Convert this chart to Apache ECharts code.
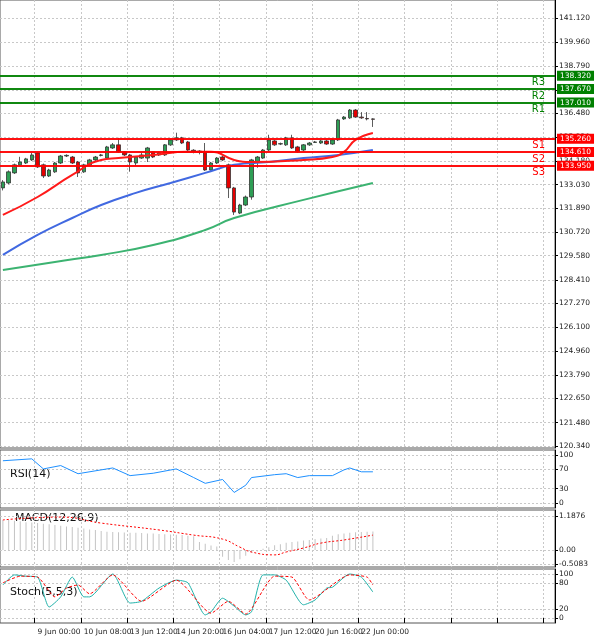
<!DOCTYPE html>
<html><head><meta charset="utf-8">
<script src="https://cdn.jsdelivr.net/npm/echarts@6/dist/echarts.min.js"></script>
<style>html,body{margin:0;padding:0;background:#fff}#c{width:600px;height:638px}</style>
</head><body><div id="c"></div>
<script>
// candles [open, close, low, high]
var candles = [
  [132.87,133.16,132.75,133.25],[133.11,133.65,133.05,133.72],[133.60,133.99,133.55,134.05],[133.99,134.13,133.95,134.38],
  [134.08,134.28,134.03,134.33],[134.23,134.47,134.18,134.57],[134.57,133.89,133.84,134.62],[133.99,133.45,133.35,134.05],
  [133.45,133.74,133.40,133.80],[133.65,134.08,133.60,134.13],[134.08,134.42,134.03,134.47],[134.42,134.45,134.37,134.50],
  [134.37,134.08,134.03,134.42],[134.13,133.60,133.40,134.18],[133.65,133.99,133.60,134.04],[133.99,134.23,133.95,134.28],
  [134.23,134.37,134.18,134.42],[134.45,134.47,134.40,134.52],[134.32,134.86,134.28,134.91],[134.81,134.96,134.76,135.05],
  [134.96,134.62,134.57,135.30],[134.62,134.47,134.42,134.66],[134.47,134.13,133.66,134.52],[134.08,134.37,133.95,134.42],
  [134.32,134.47,134.28,134.57],[134.32,134.81,134.13,134.86],[134.62,134.37,134.32,134.66],[134.47,134.57,134.42,134.62],
  [134.47,134.96,134.42,135.00],[134.96,135.20,134.91,135.25],[135.20,135.30,135.15,135.55],[135.30,135.05,135.00,135.35],
  [135.10,134.71,134.66,135.15],[134.70,134.66,134.55,134.75],[134.66,134.60,134.50,134.70],[134.62,133.74,133.70,135.05],
  [133.74,134.08,133.70,134.13],[134.08,134.32,134.03,134.37],[134.37,134.23,134.18,134.42],[133.99,132.87,132.38,134.05],
  [132.87,131.70,131.56,132.92],[131.65,132.04,131.60,132.10],[132.04,132.43,131.99,132.50],[132.43,134.23,132.30,134.28],
  [134.13,134.37,133.85,134.42],[134.32,134.71,134.28,134.76],[134.71,135.20,134.66,135.45],[135.15,134.96,134.91,135.20],
  [135.00,135.02,134.95,135.07],[134.96,135.30,134.91,135.35],[135.30,134.81,134.76,135.45],[134.86,134.62,134.57,134.91],
  [134.71,134.96,134.66,135.00],[134.96,135.05,134.91,135.10],[135.08,135.10,135.05,135.15],[135.05,135.15,135.00,135.20],
  [135.15,135.00,134.96,135.20],[135.00,135.20,134.96,135.25],[135.20,136.17,135.15,136.22],[136.22,136.31,136.17,136.36],
  [136.27,136.65,136.22,136.70],[136.65,136.31,136.27,136.70],[136.31,136.27,136.22,136.55],[136.24,136.22,136.15,136.55],
  [136.22,136.20,135.83,136.25]
];
var slotCount = 96;
var timeLabels = {6:'9 Jun 00:00',14:'10 Jun 08:00',22:'13 Jun 12:00',30:'14 Jun 20:00',38:'16 Jun 04:00',46:'17 Jun 12:00',54:'20 Jun 16:00',62:'22 Jun 00:00'};
var maRed = [[0,131.56],[6,132.43],[12,133.50],[17,134.23],[20,134.32],[26,134.47],[32,134.62],[36,134.62],[40,134.23],[43,134.13],[52,134.23],[57,134.37],[59,134.62],[61,135.20],[64,135.54]];
var maBlue = [[0,129.62],[6,130.59],[12,131.41],[17,132.04],[23,132.63],[29,133.11],[35,133.60],[40,133.99],[46,134.13],[52,134.32],[58,134.47],[64,134.71]];
var maGreen = [[0,128.89],[9,129.28],[17,129.62],[26,130.10],[35,130.83],[40,131.41],[52,132.29],[64,133.11]];
var resist = [['R3',138.32],['R2',137.67],['R1',137.01]];
var support = [['S1',135.26],['S2',134.61],['S3',133.95]];
var lastPrice = 136.199;
var priceTicks = [141.12,139.96,138.79,137.63,136.48,135.32,134.18,133.03,131.89,130.72,129.58,128.41,127.27,126.10,124.96,123.79,122.65,121.48,120.34];
var rsi = [[0,88],[5,92],[7,71],[10,78],[13,61],[19,73],[22,57],[26,62],[30,71],[33,53],[35,41],[38,49],[40,22],[42,37],[43,53],[47,59],[49,61],[51,53],[53,57],[57,57],[59,69],[60,73],[62,65],[64,65]];
var macdHist = [1.05,1.05,1.02,1.0,0.97,0.96,0.94,0.92,0.9,0.87,0.85,0.82,0.8,0.78,0.75,0.72,0.7,0.66,0.64,0.63,0.62,0.61,0.6,0.6,0.59,0.58,0.58,0.56,0.55,0.54,0.53,0.52,0.5,0.48,0.28,0.22,0.16,0.12,-0.24,-0.35,-0.42,-0.32,-0.2,-0.1,-0.05,0.04,0.1,0.17,0.2,0.25,0.28,0.3,0.33,0.35,0.38,0.4,0.42,0.5,0.55,0.58,0.6,0.62,0.63,0.64,0.65];
var macdSignal = [[0,1.05],[10,1.15],[17,0.94],[27,0.7],[33,0.52],[38,0.38],[41,0.1],[43,-0.07],[47,-0.17],[49,-0.07],[52,0.07],[55,0.24],[59,0.35],[64,0.52]];
var stochMain = [[0,75],[2,98],[4,95],[6,93],[8,25],[10,48],[12,93],[14,48],[15,48],[19,100],[22,34],[24,38],[27,68],[30,86],[32,80],[35,7],[36,14],[38,45],[40,27],[42,7],[43,14],[45,98],[47,98],[49,86],[52,30],[54,41],[56,68],[57,70],[60,100],[62,93],[64,59]];
var stochSignal = [[0,80],[3,95],[6,93],[9,48],[11,68],[13,75],[15,55],[19,98],[24,38],[30,86],[36,11],[39,38],[42,9],[47,95],[50,93],[53,41],[60,98],[63,93],[64,75]];

var cats = [];
for (var i = 0; i < slotCount; i++) cats.push(timeLabels[i] || '');
var onGrid = function (i) { return i >= 6 && (i - 6) % 8 === 0; };
var font = 'DejaVu Sans';

function xAx(gi, showLabel) {
  return {
    type: 'category', gridIndex: gi, data: cats, boundaryGap: true,
    axisLine: { show: false },
    axisTick: { show: showLabel, interval: function (i) { return onGrid(i); }, lineStyle: { color: '#000' } },
    axisLabel: { show: showLabel, interval: function (i) { return onGrid(i); }, fontSize: 7.5, color: '#222', fontFamily: font, align: 'left', margin: 5 },
    splitLine: { show: true, interval: function (i) { return onGrid(i); }, lineStyle: { color: '#c8c8c8', type: [2, 2] } }
  };
}
function yAx(gi, min, max, ticks, fmt) {
  return {
    type: 'value', gridIndex: gi, position: 'right', min: min, max: max,
    axisLine: { show: true, lineStyle: { color: '#000' } },
    axisTick: { show: true, length: 3, customValues: ticks, lineStyle: { color: '#000' } },
    axisLabel: { customValues: ticks, fontSize: 7.5, color: '#222', fontFamily: font, margin: 4, formatter: fmt },
    splitLine: { show: true, lineStyle: { color: '#c8c8c8', type: [2, 2] } }
  };
}
function levelLines(list, color, textSide) {
  return list.map(function (l) {
    return {
      yAxis: l[1],
      lineStyle: { color: color, width: 1.5, type: 'solid' },
      label: textSide ? { show: true, position: 'insideEndBottom', formatter: l[0], color: color, fontSize: 10, fontFamily: font, distance: [10, 2] }
                      : { show: true, position: 'end', formatter: l[1].toFixed(3), color: '#fff', backgroundColor: color, fontSize: 7.5, fontFamily: font, padding: [1, 3], distance: 2 }
    };
  });
}
var mlBase = { symbol: 'none', silent: true, animation: false };
var border = { show: true, borderColor: '#555', borderWidth: 1, backgroundColor: 'transparent' };

var chart = echarts.init(document.getElementById('c'));
chart.setOption({
  animation: false,
  backgroundColor: '#fff',
  grid: [
    Object.assign({ left: -2, right: 45, top: -2, height: 450 }, border),
    Object.assign({ left: -2, right: 45, top: 450, height: 58 }, border),
    Object.assign({ left: -2, right: 45, top: 510, height: 57 }, border),
    Object.assign({ left: -2, right: 45, top: 569, height: 54 }, border)
  ],
  xAxis: [xAx(0, false), xAx(1, false), xAx(2, false), xAx(3, true)],
  yAxis: [
    yAx(0, 120.25, 141.99, priceTicks, function (v) { return v.toFixed(3); }),
    yAx(1, -10.4, 110.4, [0, 30, 70, 100], function (v) { return String(v); }),
    yAx(2, -0.594, 1.397, [-0.5083, 0, 1.1876], function (v) { return v === 0 ? '0.00' : v.toFixed(4); }),
    yAx(3, -11.4, 111.4, [0, 20, 80, 100], function (v) { return String(v); })
  ],
  graphic: [
    { type: 'text', left: 10, top: 469, style: { text: 'RSI(14)', fontSize: 11, fontFamily: font, fill: '#111' } },
    { type: 'text', left: 15, top: 513, style: { text: 'MACD(12,26,9)', fontSize: 11, fontFamily: font, fill: '#111' } },
    { type: 'text', left: 10, top: 587, style: { text: 'Stoch(5,5,3)', fontSize: 11, fontFamily: font, fill: '#111' } }
  ],
  series: [
    { type: 'line', data: maGreen, smooth: true, showSymbol: false, lineStyle: { color: '#3cb371', width: 2 } },
    { type: 'line', data: maBlue, smooth: true, showSymbol: false, lineStyle: { color: '#4169e1', width: 2 } },
    { type: 'line', data: maRed, smooth: true, showSymbol: false, lineStyle: { color: '#ff1a1a', width: 2 } },
    {
      type: 'candlestick', data: candles, barWidth: 4,
      itemStyle: { color: '#2e9e55', color0: '#e60000', borderColor: '#333', borderColor0: '#333', borderWidth: 0.8 },
      markLine: Object.assign({ data: levelLines(resist, '#008000', true).concat(levelLines(support, '#ff0000', true)) }, mlBase)
    },
    {
      type: 'line', data: [], markLine: Object.assign({
        data: levelLines(resist, '#008000', false).concat(levelLines(support, '#ff0000', false)).concat([
          { yAxis: lastPrice, lineStyle: { width: 0, opacity: 0 }, label: { show: true, position: 'end', formatter: lastPrice.toFixed(3), color: '#fff', backgroundColor: '#000', fontSize: 7.5, fontFamily: font, padding: [1, 3], distance: 2 } }
        ])
      }, mlBase)
    },
    { type: 'line', xAxisIndex: 1, yAxisIndex: 1, data: rsi, showSymbol: false, lineStyle: { color: '#1e90ff', width: 1 } },
    { type: 'bar', xAxisIndex: 2, yAxisIndex: 2, data: macdHist, barWidth: 1, itemStyle: { color: '#c4c4c4' } },
    { type: 'line', xAxisIndex: 2, yAxisIndex: 2, data: macdSignal, smooth: true, showSymbol: false, lineStyle: { color: '#ff0000', width: 1, type: [2, 2] } },
    { type: 'line', xAxisIndex: 3, yAxisIndex: 3, data: stochMain, smooth: 0.2, showSymbol: false, lineStyle: { color: '#20b2aa', width: 1 } },
    { type: 'line', xAxisIndex: 3, yAxisIndex: 3, data: stochSignal, smooth: 0.2, showSymbol: false, lineStyle: { color: '#ff0000', width: 1, type: [3, 2] } }
  ]
});
</script>
</body></html>
